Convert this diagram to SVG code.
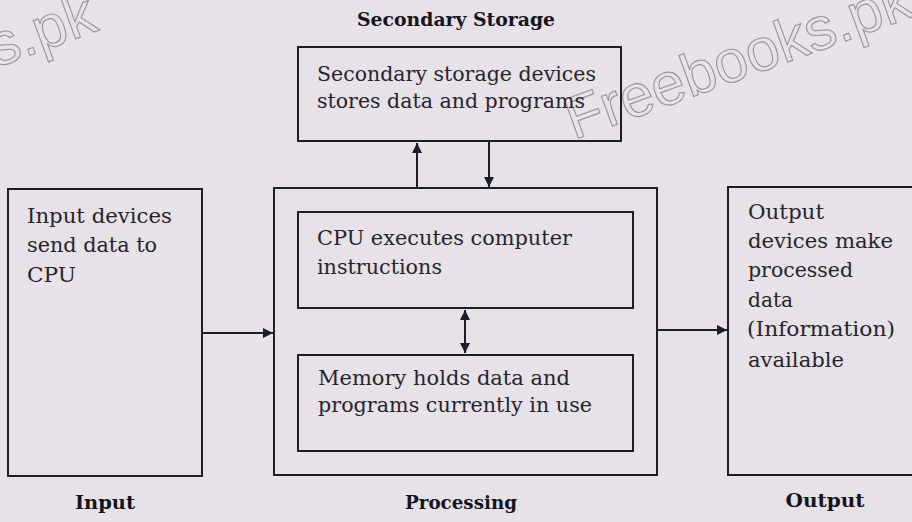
<svg xmlns="http://www.w3.org/2000/svg" width="912" height="522" viewBox="0 0 912 522">
<style>
.box{fill:none;stroke:#1c1c2a;stroke-width:2}
.t{font-family:"DejaVu Serif","Liberation Serif",serif;font-size:20px;fill:#26242c}
.h{font-family:"DejaVu Serif","Liberation Serif",serif;font-size:18px;font-weight:bold;fill:#15141c}
.wm{font-family:"Liberation Sans",Arial,sans-serif;font-size:60px;fill:none;stroke:#98939c;stroke-width:1.1}
.c{stroke:#1c1c2a;stroke-width:2;fill:none}
</style>
<defs>
<marker id="ah" viewBox="0 0 10 10" refX="10" refY="5" markerWidth="10" markerHeight="10" markerUnits="userSpaceOnUse" orient="auto-start-reverse">
<path d="M0,0 L10,5 L0,10 z" fill="#1c1c2a"/>
</marker>
</defs>
<rect width="912" height="522" fill="#e7e1e8"/>
<g id="watermark">
<text class="wm" x="574" y="140" transform="rotate(-20 574 140)">Freebooks.pk</text>
<text class="wm" x="100" y="30" text-anchor="end" transform="rotate(-20 100 30)">Freebooks.pk</text>
</g>
<g id="secondary">
<text class="h" x="456" y="26" text-anchor="middle" textLength="198" lengthAdjust="spacingAndGlyphs">Secondary Storage</text>
<rect class="box" x="298" y="47" width="323" height="94"/>
<text class="t" x="317" y="81" textLength="279" lengthAdjust="spacingAndGlyphs">Secondary storage devices</text>
<text class="t" x="317" y="108" textLength="268" lengthAdjust="spacingAndGlyphs">stores data and programs</text>
</g>
<g id="input">
<rect class="box" x="8" y="189" width="194" height="287"/>
<text class="t" x="27" y="223" textLength="145" lengthAdjust="spacingAndGlyphs">Input devices</text>
<text class="t" x="27" y="252" textLength="130" lengthAdjust="spacingAndGlyphs">send data to</text>
<text class="t" x="27" y="282" textLength="49" lengthAdjust="spacingAndGlyphs">CPU</text>
<text class="h" x="105" y="509" text-anchor="middle" textLength="60" lengthAdjust="spacingAndGlyphs">Input</text>
</g>
<g id="processing">
<rect class="box" x="274" y="188" width="383" height="287"/>
<text class="h" x="461" y="509" text-anchor="middle" textLength="112" lengthAdjust="spacingAndGlyphs">Processing</text>
</g>
<g id="cpu">
<rect class="box" x="298" y="212" width="335" height="96"/>
<text class="t" x="317" y="245" textLength="255" lengthAdjust="spacingAndGlyphs">CPU executes computer</text>
<text class="t" x="317" y="274" textLength="125" lengthAdjust="spacingAndGlyphs">instructions</text>
</g>
<g id="memory">
<rect class="box" x="298" y="355" width="335" height="96"/>
<text class="t" x="318" y="385" textLength="252" lengthAdjust="spacingAndGlyphs">Memory holds data and</text>
<text class="t" x="318" y="412" textLength="274" lengthAdjust="spacingAndGlyphs">programs currently in use</text>
</g>
<g id="output">
<rect class="box" x="728" y="187" width="190" height="288"/>
<text class="t" x="748" y="219" textLength="76" lengthAdjust="spacingAndGlyphs">Output</text>
<text class="t" x="748" y="248" textLength="145" lengthAdjust="spacingAndGlyphs">devices make</text>
<text class="t" x="748" y="277" textLength="105" lengthAdjust="spacingAndGlyphs">processed</text>
<text class="t" x="748" y="307" textLength="45" lengthAdjust="spacingAndGlyphs">data</text>
<text class="t" x="747" y="336" textLength="148" lengthAdjust="spacingAndGlyphs">(Information)</text>
<text class="t" x="748" y="367" textLength="96" lengthAdjust="spacingAndGlyphs">available</text>
<text class="h" x="825" y="507" text-anchor="middle" textLength="79" lengthAdjust="spacingAndGlyphs">Output</text>
</g>
<g id="connectors">
<line class="c" x1="417" y1="188" x2="417" y2="143" marker-end="url(#ah)"/>
<line class="c" x1="489" y1="141" x2="489" y2="187" marker-end="url(#ah)"/>
<line class="c" x1="202" y1="333" x2="273" y2="333" marker-end="url(#ah)"/>
<line class="c" x1="657" y1="330" x2="727" y2="330" marker-end="url(#ah)"/>
<line class="c" x1="465" y1="310" x2="465" y2="353" marker-start="url(#ah)" marker-end="url(#ah)"/>
</g>
</svg>
